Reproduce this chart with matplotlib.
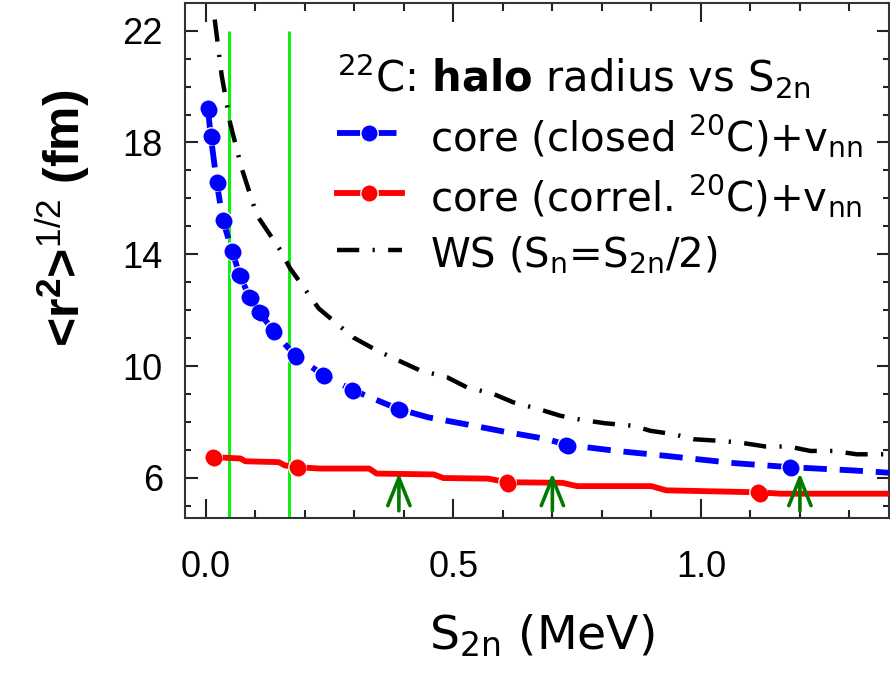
import matplotlib
matplotlib.use("Agg")
import matplotlib.pyplot as plt
import numpy as np
from matplotlib.ticker import MultipleLocator
from matplotlib.transforms import offset_copy

plt.rcParams['font.family'] = ['DejaVu Sans']
plt.rcParams['mathtext.fontset'] = 'custom'
plt.rcParams['mathtext.rm'] = 'Liberation Sans'
plt.rcParams['mathtext.bf'] = 'DejaVu Sans:bold'
plt.rcParams['mathtext.default'] = 'regular'

# --- data (S2n in MeV, rms radius in fm) ---
blue_s2n = [0.004, 0.010, 0.022, 0.034, 0.053, 0.068, 0.088, 0.108, 0.135, 0.180,
            0.236, 0.295, 0.389, 0.45, 0.53, 0.60, 0.69, 0.728, 0.83, 0.91,
            0.99, 1.07, 1.180, 1.31, 1.38]
blue_r = [19.22, 18.23, 16.58, 15.24, 14.13, 13.26, 12.48, 11.94, 11.28, 10.38,
          9.69, 9.15, 8.46, 8.16, 7.90, 7.66, 7.38, 7.18, 6.96, 6.82,
          6.67, 6.52, 6.38, 6.26, 6.18]
blue_dot_idx = [0, 1, 2, 3, 4, 5, 6, 7, 8, 9, 10, 11, 12, 17, 22]

red_s2n = [0.014, 0.07, 0.08, 0.147, 0.16, 0.184, 0.23, 0.33, 0.345, 0.46,
           0.48, 0.57, 0.608, 0.72, 0.75, 0.90, 0.93, 1.116, 1.16, 1.38]
red_r = [6.74, 6.69, 6.59, 6.56, 6.44, 6.38, 6.33, 6.33, 6.15, 6.12,
         5.99, 5.97, 5.84, 5.82, 5.70, 5.70, 5.55, 5.48, 5.43, 5.43]
red_dot_idx = [0, 5, 12, 17]

ws_s2n = [0.018, 0.032, 0.049, 0.072, 0.103, 0.150, 0.170, 0.228, 0.298, 0.345,
          0.396, 0.433, 0.487, 0.527, 0.581, 0.621, 0.672, 0.716, 0.760, 0.807,
          0.864, 0.898, 0.945, 0.985, 1.039, 1.079, 1.130, 1.177, 1.221, 1.268,
          1.315, 1.38]
ws_r = [22.4, 20.4, 18.7, 17.1, 15.4, 14.16, 13.5, 12.06, 11.02, 10.56,
        10.14, 9.84, 9.60, 9.24, 9.00, 8.70, 8.46, 8.22, 8.07, 7.95,
        7.86, 7.68, 7.56, 7.38, 7.32, 7.26, 7.12, 7.12, 6.96, 6.96,
        6.84, 6.84]

green_lines = [0.047, 0.168]
arrow_s2n = [0.39, 0.70, 1.20]
arrow_top = 6.27
arrow_bottom = 4.72

fig = plt.figure(figsize=(8.9, 6.75), dpi=100)
ax = fig.add_axes([0.2079, 0.233, 0.791, 0.7625])

ylo, yhi = 4.57, 22.99
ax.set_xlim(-0.042, 1.380)
ax.set_ylim(ylo, yhi)

# green vertical markers
ax.vlines(green_lines, ylo, 22.0, colors='#11ee11', lw=2.2, zorder=2)

# curves
ax.plot(ws_s2n, ws_r, color='black', lw=3.2, ls=(0, (5, 3, 0.5, 3)),
        label=r'WS (S$_n$=S$_{2n}$/2)', zorder=3)
ax.plot(blue_s2n, blue_r, color='#0000ff', lw=4.2, ls=(0, (4, 2.2)),
        marker='o', ms=12.5, mfc='#0000ff', mec='white', mew=1.0,
        markevery=blue_dot_idx, label=r'core (closed $^{20}$C)+v$_{nn}$', zorder=4)
ax.plot(red_s2n, red_r, color='#ff0000', lw=4.2, ls='-',
        marker='o', ms=12.5, mfc='#ff0000', mec='white', mew=1.0,
        markevery=red_dot_idx, label=r'core (correl. $^{20}$C)+v$_{nn}$', zorder=4)

# shading on the dots
hl = offset_copy(ax.transData, fig=fig, x=1.3, y=-1.3, units='dots')
bx = np.array(blue_s2n)[blue_dot_idx]
by = np.array(blue_r)[blue_dot_idx]
rx = np.array(red_s2n)[red_dot_idx]
ry = np.array(red_r)[red_dot_idx]
ax.plot(bx, by, 'o', ms=11.5, mfc='#0000ff', mec='none', transform=hl, zorder=5)
ax.plot(rx, ry, 'o', ms=11.5, mfc='#ff0000', mec='none', transform=hl, zorder=5)

# arrows
for xa in arrow_s2n:
    ax.annotate('', xy=(xa, arrow_top), xytext=(xa, arrow_bottom),
                arrowprops=dict(arrowstyle='->,head_length=0.8,head_width=0.32',
                                color='#007a00', lw=2.6, mutation_scale=25),
                zorder=6)

# axes styling
ax.set_xticks([0.0, 0.5, 1.0])
ax.set_xticklabels(['0.0', '0.5', '1.0'])
ax.xaxis.set_minor_locator(MultipleLocator(0.1))
ax.set_yticks([6, 10, 14, 18, 22])
ax.yaxis.set_minor_locator(MultipleLocator(1))
ax.tick_params(which='both', direction='in', top=True, right=True, width=1.5, color='#222222')
ax.tick_params(axis='x', which='major', length=13.5, labelsize=26, pad=23)
ax.tick_params(axis='x', which='minor', length=6)
ax.tick_params(axis='y', which='major', length=9, labelsize=26, pad=16)
ax.tick_params(axis='y', which='minor', length=4)
for lbl in ax.get_xticklabels() + ax.get_yticklabels():
    lbl.set_family('Liberation Sans')
for sp in ax.spines.values():
    sp.set_linewidth(1.5)
    sp.set_color('#333333')

ax.set_xlabel(r'S$_{2n}$ (MeV)', fontsize=34)
ax.xaxis.set_label_coords(0.507, -0.186)
ax.set_ylabel(r'<r$^2$>$^{\mathrm{1/2}}$ (fm)', fontsize=36, fontweight='bold',
              family='Liberation Sans')
ax.yaxis.set_label_coords(-0.131, 0.582)

leg = ax.legend(loc='upper left', bbox_to_anchor=(0.216, 0.905), frameon=False,
                fontsize=29, handlelength=1.6, handletextpad=0.7, labelspacing=0.3,
                handleheight=1.3, borderpad=0, borderaxespad=0, numpoints=1,
                alignment='left',
                title=r'$^{22}$C: $\mathbf{halo}$ radius vs S$_{2n}$', title_fontsize=30,
                handles=[ax.lines[1], ax.lines[2], ax.lines[0]])
leg._legend_box.sep = 8

fig.savefig('out.png', dpi=100)
